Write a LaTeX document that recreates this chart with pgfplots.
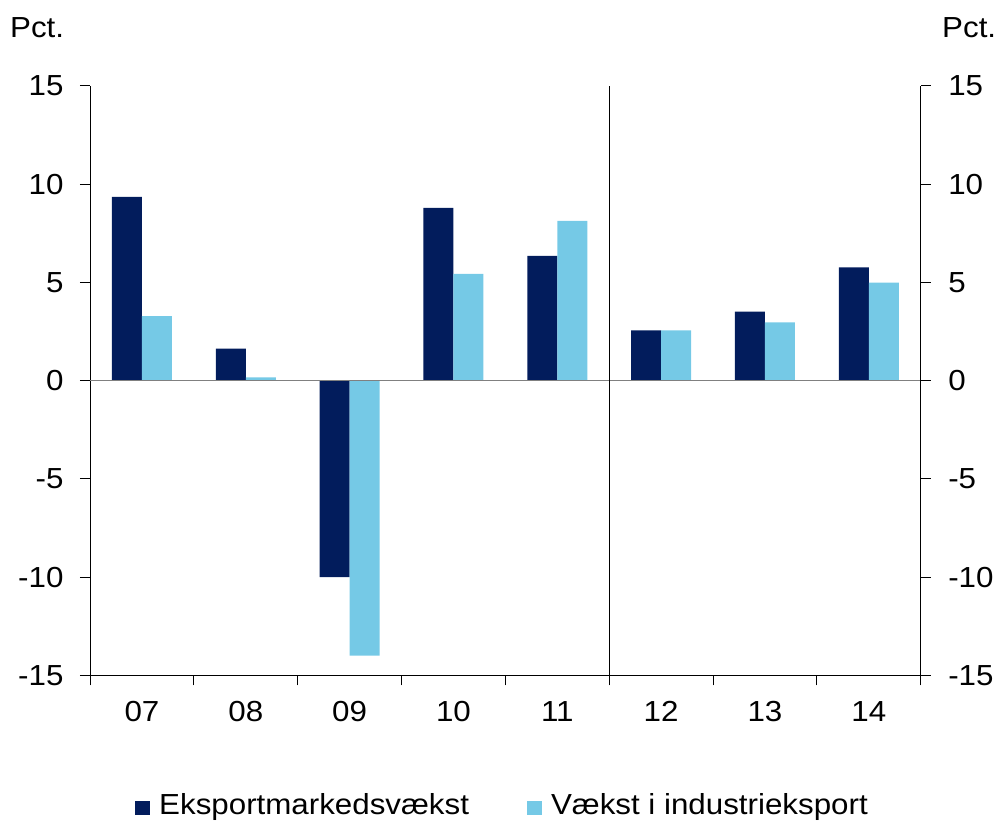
\documentclass[border=0pt]{standalone}
\usepackage{fontspec}
\setmainfont{Liberation Sans}[FakeStretch=1.08]
\usepackage{pgfplots}
\pgfplotsset{compat=1.18}
\definecolor{dk}{RGB}{2,28,92}
\definecolor{lb}{RGB}{117,201,230}
\newcommand{\bigf}{\fontsize{29bp}{34bp}\selectfont}
\begin{document}
\begin{tikzpicture}[x=1bp,y=1bp]
\useasboundingbox (0,0) rectangle (998,824);
\begin{axis}[
  at={(90bp,148.7bp)}, anchor=south west,
  width=830.7bp, height=589.3bp, scale only axis,
  xmin=-0.5, xmax=7.5, ymin=-15, ymax=15,
  axis x line*=bottom, axis y line*=left,
  axis line style={-, black, line width=1bp},
  ybar, bar width=0.289,
  xtick={0,...,7}, xticklabels={07,08,09,10,11,12,13,14},
  major x tick style={draw=none},
  minor xtick={-0.5,0.5,...,7.5},
  ytick={-15,-10,-5,0,5,10,15}, yticklabels={-15,-10,-5,0,5,10,15},
  tick align=outside, major tick length=10bp, minor tick length=10bp,
  tick style={black, line width=1bp},
  tick label style={font=\bigf},
  xticklabel style={text height=21bp, text depth=0pt, yshift=-12bp},
  yticklabel style={xshift=-13bp},
  clip=false,
  legend columns=2,
  legend cell align=left,
  legend image code/.code={\path[#1,draw=none] (0bp,-10bp) rectangle (15bp,4.5bp);},
  legend style={at={(0.0542,-0.2007)}, anchor=north west, draw=none, fill=none,
    inner sep=0pt, font=\bigf, nodes={inner sep=0pt},
    /tikz/every odd column/.append style={column sep=9bp},
    /tikz/every even column/.append style={column sep=58bp}},
]
\addplot[fill=dk, draw=none, bar shift=-0.1445] coordinates
  {(0,9.35) (1,1.63) (2,-10.0) (3,8.79) (4,6.35) (5,2.56) (6,3.51) (7,5.76)};
\addlegendentry{Eksportmarkedsvækst}
\addplot[fill=lb, draw=none, bar shift=0.1445] coordinates
  {(0,3.28) (1,0.17) (2,-14.0) (3,5.43) (4,8.13) (5,2.56) (6,2.97) (7,4.99)};
\addlegendentry{Vækst i industrieksport}
\draw[gray, line width=1.5bp] (axis cs:-0.5,0) -- (axis cs:7.5,0);
\draw[black, line width=1bp] (axis cs:4.5,-15) -- (axis cs:4.5,15);
\end{axis}
\begin{axis}[
  at={(90bp,148.7bp)}, anchor=south west,
  width=830.7bp, height=589.3bp, scale only axis,
  xmin=-0.5, xmax=7.5, ymin=-15, ymax=15,
  axis x line=none, axis y line*=right,
  axis line style={-, black, line width=1bp},
  ytick={-15,-10,-5,0,5,10,15}, yticklabels={-15,-10,-5,0,5,10,15},
  tick align=outside, major tick length=10bp,
  tick style={black, line width=1bp},
  tick label style={font=\bigf},
  yticklabel style={xshift=14bp},
]
\end{axis}
\node[anchor=base west, inner sep=0pt, font=\bigf] at (10,786.3) {Pct.};
\node[anchor=base west, inner sep=0pt, font=\bigf] at (942,786.3) {Pct.};
\end{tikzpicture}
\end{document}
